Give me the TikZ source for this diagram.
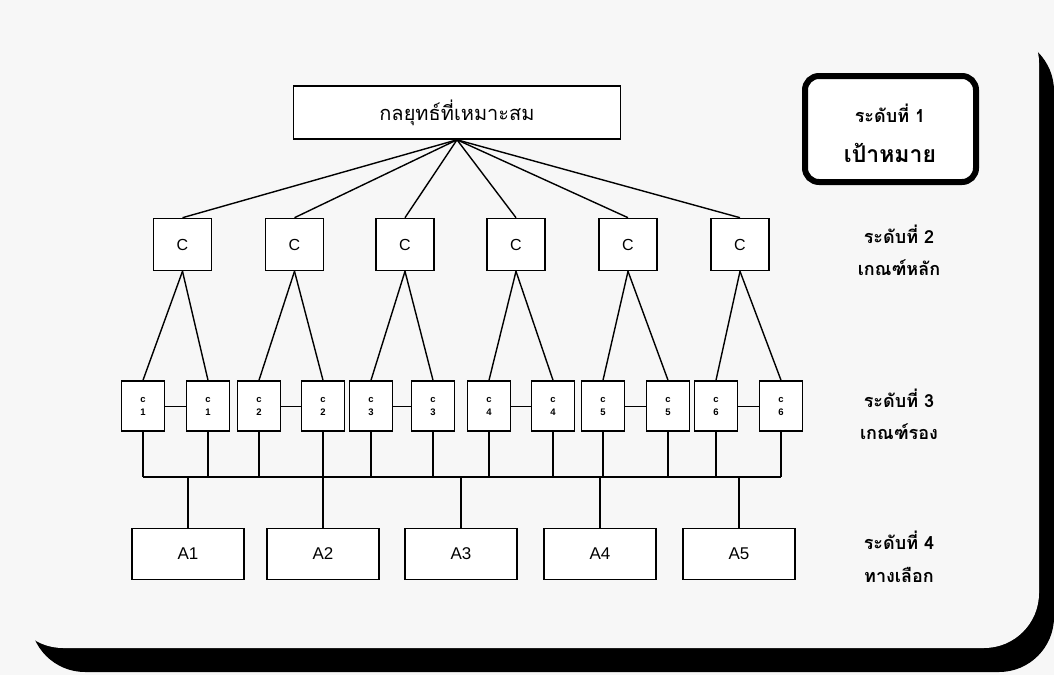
\documentclass[tikz,border=0pt]{standalone}
\usepackage{fontspec}
\setmainfont{Liberation Sans}
\newfontfamily\thaifont[Script=Thai]{Loma}
\begin{document}
\begin{tikzpicture}[x=1pt,y=-1pt,
  box/.style={draw,line width=1.6pt,inner sep=0pt,fill=white},
  cbox/.style={box,minimum width=58pt,minimum height=52pt,font=\fontsize{16}{16}\selectfont},
  sbox/.style={box,minimum width=43pt,minimum height=50pt,font=\fontsize{9.5}{13}\selectfont\bfseries,align=center},
  abox/.style={box,minimum width=112pt,minimum height=51pt,font=\fontsize{17}{17}\selectfont},
  lab/.style={font=\thaifont\bfseries\fontsize{18}{18}\selectfont},
  ln/.style={line width=1.4pt},
  thin/.style={line width=0.8pt}]
\useasboundingbox (0,0) rectangle (1054,675);
% frame with shadow
\fill[black!3] (0,0) rectangle (1054,675);
\fill[black, rounded corners=55pt] (30,36) rectangle (1054,672);
\fill[black!3, rounded corners=55pt] (8,8) rectangle (1039,648);
% goal
\node[box,minimum width=327pt,minimum height=53pt,font=\thaifont\fontsize{20}{20}\selectfont] (goal) at (457,112.5) {กลยุทธ์ที่เหมาะสม};
% level 2
\foreach \x [count=\i] in {182.5,294.5,405,516,628,740}{
  \node[cbox] (c\i) at (\x,244.5) {C};
  \draw[ln] (goal.south) -- (c\i.north);
}
% bus
\coordinate (bus) at (0,477);
% level 3
\foreach \a/\b [count=\i] in {143/208,259/323,371/433,489/553,603/668,716/781}{
  \node[sbox] (s\i-a) at (\a,406) {c\\\i};
  \node[sbox] (s\i-b) at (\b,406) {c\\\i};
  \draw[ln] (c\i.south) -- (s\i-a.north);
  \draw[ln] (c\i.south) -- (s\i-b.north);
  \draw[thin] (s\i-a.east) -- (s\i-b.west);
  \draw[ln] (s\i-a.south) -- (s\i-a.south |- bus);
  \draw[ln] (s\i-b.south) -- (s\i-b.south |- bus);
}
\draw[ln] (s1-a.south |- bus) -- (s6-b.south |- bus);
% level 4
\foreach \x [count=\i] in {188,323,461,600,739}{
  \node[abox] (a\i) at (\x,554) {A\i};
  \draw[ln] (a\i.north) -- (a\i.north |- bus);
}
% right labels
\node[draw,line width=6pt,rounded corners=14pt,minimum width=171pt,minimum height=106pt,fill=white] (l1box) at (890.5,129) {};
\node[lab] (l1a) at (890,113) {ระดับที่ 1};
\node[lab,font=\thaifont\bfseries\fontsize{23}{23}\selectfont] (l1b) at (890,153) {เป้าหมาย};
\node[lab] (l2a) at (899,234) {ระดับที่ 2};
\node[lab] (l2b) at (899,268) {เกณฑ์หลัก};
\node[lab] (l3a) at (899,398) {ระดับที่ 3};
\node[lab] (l3b) at (899,432) {เกณฑ์รอง};
\node[lab] (l4a) at (899,540) {ระดับที่ 4};
\node[lab] (l4b) at (899,575) {ทางเลือก};
\end{tikzpicture}
\end{document}
